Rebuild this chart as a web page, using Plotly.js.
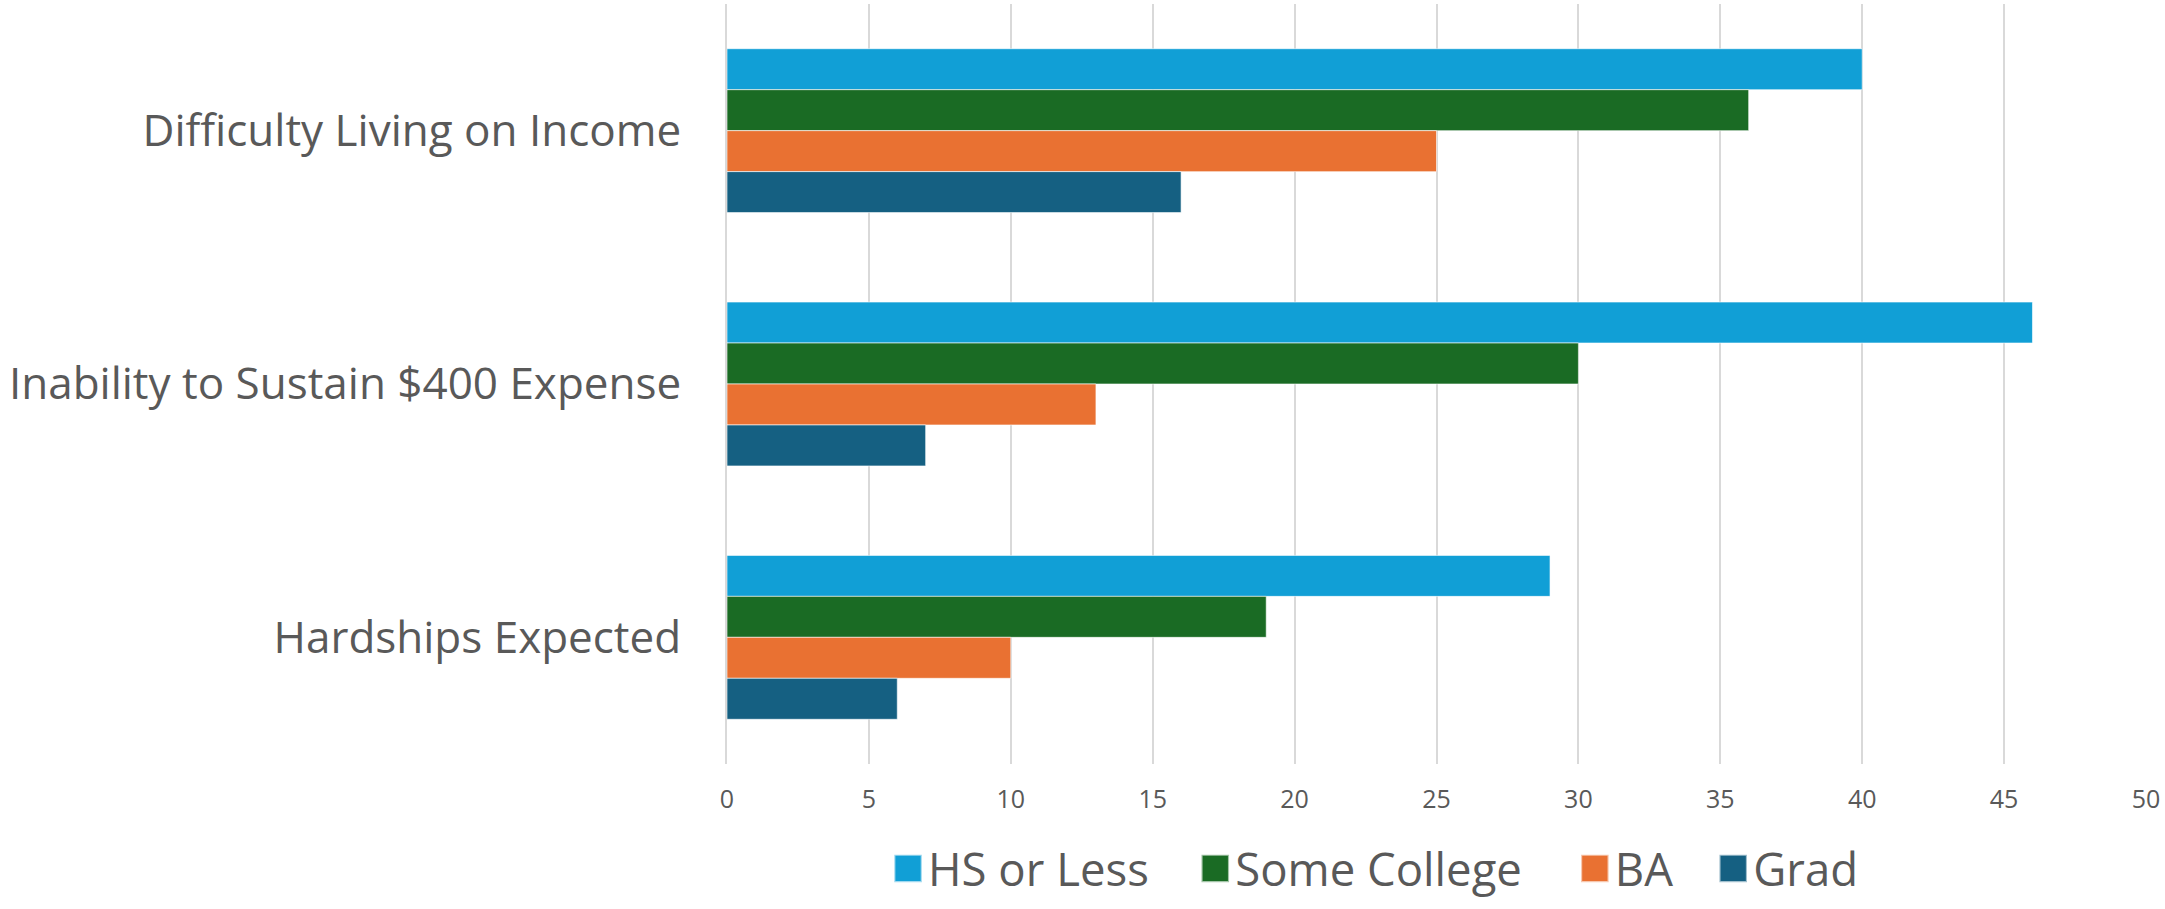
<!DOCTYPE html>
<html>
<head>
<meta charset="utf-8">
<script src="https://cdn.plot.ly/plotly-3.0.1.min.js"></script>
<style>html,body{margin:0;padding:0;background:#fff;}#chart{width:2165px;height:909px;}</style>
</head>
<body>
<div id="chart"></div>
<script>
const categories = ["Difficulty Living on Income", "Inability to Sustain $400 Expense", "Hardships Expected"];
const seriesNames = ["HS or Less", "Some College", "BA", "Grad"];
const hsOrLess = [40, 46, 29];
const someCollege = [36, 30, 19];
const ba = [25, 13, 10];
const grad = [16, 7, 6];
const xTicks = [0, 5, 10, 15, 20, 25, 30, 35, 40, 45, 50];

const colors = ["#119FD6", "#1A6B24", "#E97132", "#156082"];
const values = [hsOrLess, someCollege, ba, grad];
const legendIds = ["legend", "legend2", "legend3", "legend4"];
const legendX = [0.1135, 0.3300, 0.5975, 0.6950];

const traces = seriesNames.map((name, i) => ({
  type: "bar",
  orientation: "h",
  name: name,
  y: categories,
  x: values[i],
  legend: legendIds[i],
  marker: {color: colors[i], line: {color: "rgba(255,255,255,0.6)", width: 1}},
  hoverinfo: "x+name"
}));

const font = "'Open Sans', sans-serif";
const layout = {
  width: 2165, height: 909,
  margin: {l: 727, r: 19, t: 4, b: 129},
  paper_bgcolor: "#fff", plot_bgcolor: "#fff",
  barmode: "group",
  bargap: 0.353,
  bargroupgap: 0,
  font: {family: font, color: "#595959"},
  xaxis: {
    range: [0, 50],
    tickvals: xTicks,
    ticktext: xTicks.map(String),
    showgrid: true, gridcolor: "#D9D9D9", gridwidth: 2,
    zeroline: false, showline: false,
    ticks: "", ticklabelstandoff: 18,
    tickfont: {size: 25, color: "#595959", family: font}
  },
  yaxis: {
    autorange: "reversed",
    showgrid: false, zeroline: false,
    showline: true, linecolor: "#D9D9D9", linewidth: 2,
    ticks: "", ticklabelstandoff: 35,
    tickfont: {size: 44, color: "#595959", family: font}
  },
  showlegend: true
};
legendIds.forEach((id, i) => {
  layout[id] = {
    orientation: "h", x: legendX[i], xanchor: "left", y: -0.138, yanchor: "middle",
    font: {size: 45.5, color: "#595959", family: font},
    bgcolor: "rgba(0,0,0,0)", borderwidth: 0
  };
});

Plotly.newPlot("chart", traces, layout, {displayModeBar: false, staticPlot: true}).then(() => {
  document.querySelectorAll(".legendpoints path").forEach(p => {
    const t = p.getAttribute("transform") || "";
    p.setAttribute("transform", t + " scale(2.3)");
  });
});
</script>
</body>
</html>
